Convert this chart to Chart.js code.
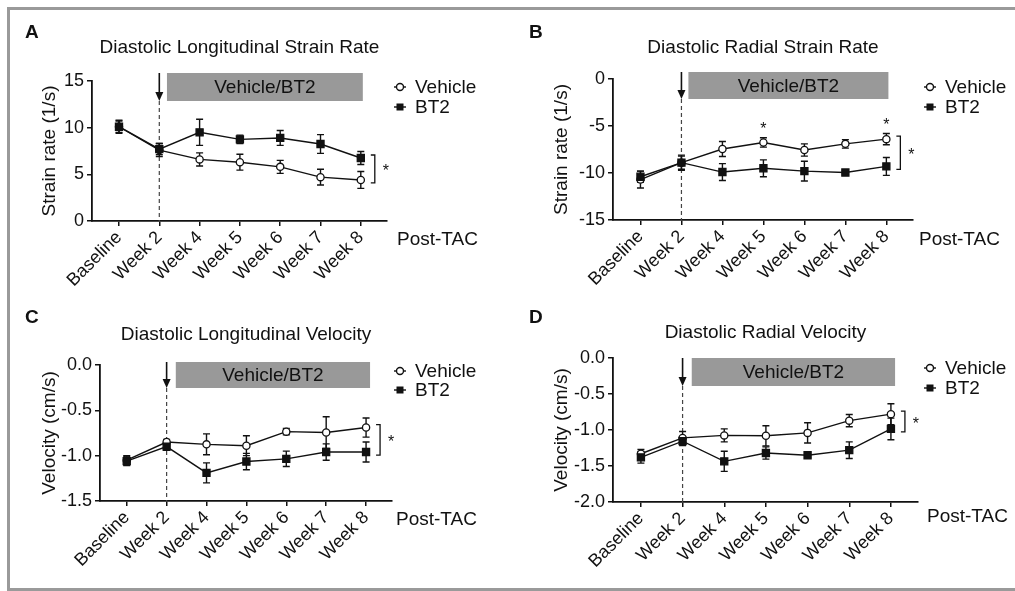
<!DOCTYPE html>
<html>
<head>
<meta charset="utf-8">
<script src="https://cdn.jsdelivr.net/npm/chart.js@4.4.1/dist/chart.umd.min.js"></script>
<style>
  body { margin: 0; background: #fff; }
  #wrap { position: relative; width: 1015px; height: 591px; overflow: hidden; }
  canvas { position: absolute; }
  #frame { position: absolute; left: 7px; top: 7px; width: 1100px; height: 584px; border: 3px solid #9a9a9a; box-sizing: border-box; pointer-events: none; }
</style>
</head>
<body>
<div id="wrap">
  <canvas id="cA"></canvas>
  <canvas id="cB"></canvas>
  <canvas id="cC"></canvas>
  <canvas id="cD"></canvas>
  <div id="frame"></div>
</div>
<script>
// Time points (x axis)
const timepoints = ['Baseline', 'Week 2', 'Week 4', 'Week 5', 'Week 6', 'Week 7', 'Week 8'];

// A - Diastolic longitudinal strain rate (1/s)
const lsrVehicle    = [10.1, 7.6, 6.6, 6.3, 5.8, 4.7, 4.4];
const lsrVehicleErr = [0.7, 0.7, 0.7, 0.85, 0.7, 0.85, 0.9];
const lsrBT2        = [10.1, 7.7, 9.5, 8.75, 8.9, 8.25, 6.75];
const lsrBT2Err     = [0.6, 0.6, 1.4, 0.45, 0.8, 1.0, 0.7];

// B - Diastolic radial strain rate (1/s)
const rsrVehicle    = [-10.7, -8.9, -7.45, -6.75, -7.55, -6.9, -6.4];
const rsrVehicleErr = [0.9, 0.8, 0.8, 0.5, 0.65, 0.45, 0.6];
const rsrBT2        = [-10.4, -8.9, -9.9, -9.5, -9.8, -9.95, -9.3];
const rsrBT2Err     = [0.6, 0.7, 0.9, 0.9, 1.05, 0.2, 0.95];
const rsrStars      = [3, 6];

// C - Diastolic longitudinal velocity (cm/s)
const lvVehicle    = [-1.05, -0.85, -0.875, -0.89, -0.735, -0.745, -0.69];
const lvVehicleErr = [0.05, 0.03, 0.115, 0.11, 0.035, 0.175, 0.105];
const lvBT2        = [-1.06, -0.9, -1.19, -1.065, -1.035, -0.96, -0.96];
const lvBT2Err     = [0.05, 0.04, 0.11, 0.09, 0.085, 0.09, 0.11];

// D - Diastolic radial velocity (cm/s)
const rvVehicle    = [-1.33, -1.11, -1.075, -1.08, -1.04, -0.87, -0.78];
const rvVehicleErr = [0.06, 0.09, 0.09, 0.14, 0.14, 0.085, 0.145];
const rvBT2        = [-1.38, -1.155, -1.435, -1.32, -1.35, -1.28, -0.985];
const rvBT2Err     = [0.08, 0.06, 0.14, 0.085, 0.03, 0.115, 0.15];

const INK = '#111';
const FONT = "'Liberation Sans', Arial, sans-serif";
Chart.defaults.font.family = FONT;
Chart.defaults.color = INK;

// Draws error bars, the treatment box, arrow, legend, bracket and labels
function decorPlugin(p) {
  return {
    id: 'decor',
    beforeDatasetsDraw(chart) {
      const { ctx, chartArea: a, scales: { x, y } } = chart;
      const wx = x.getPixelForValue(1);
      ctx.save();
      // dashed line under the arrow
      ctx.strokeStyle = '#444';
      ctx.lineWidth = 1.2;
      ctx.setLineDash([4, 3]);
      ctx.beginPath();
      ctx.moveTo(wx, a.top + p.box.bottom);
      ctx.lineTo(wx, a.bottom);
      ctx.stroke();
      ctx.setLineDash([]);
      // error bars
      ctx.strokeStyle = INK;
      ctx.lineWidth = 1.4;
      p.series.forEach(s => {
        s.values.forEach((v, i) => {
          const px = x.getPixelForValue(i);
          const t = y.getPixelForValue(v + s.err[i]);
          const b = y.getPixelForValue(v - s.err[i]);
          ctx.beginPath();
          ctx.moveTo(px, t); ctx.lineTo(px, b);
          ctx.moveTo(px - 3.5, t); ctx.lineTo(px + 3.5, t);
          ctx.moveTo(px - 3.5, b); ctx.lineTo(px + 3.5, b);
          ctx.stroke();
        });
      });
      ctx.restore();
    },
    afterDraw(chart) {
      const { ctx, chartArea: a, scales: { x, y } } = chart;
      const cx = chart.canvas.offsetLeft, cy = chart.canvas.offsetTop;
      ctx.save();

      // panel letter
      ctx.fillStyle = INK;
      ctx.font = `bold 19px ${FONT}`;
      ctx.textAlign = 'left';
      ctx.textBaseline = 'middle';
      ctx.fillText(p.letter, p.letterPos[0] - cx, p.letterPos[1] - cy);

      // treatment box
      const bx0 = x.getPixelForValue(p.box.x0), bx1 = x.getPixelForValue(p.box.x1);
      const by0 = a.top + p.box.top, by1 = a.top + p.box.bottom;
      ctx.fillStyle = '#999999';
      ctx.fillRect(bx0, by0, bx1 - bx0, by1 - by0);
      ctx.fillStyle = INK;
      ctx.font = `19px ${FONT}`;
      ctx.textAlign = 'center';
      ctx.fillText('Vehicle/BT2', (bx0 + bx1) / 2, (by0 + by1) / 2 + 1);

      // arrow at Week 2
      const wx = x.getPixelForValue(1);
      ctx.strokeStyle = INK;
      ctx.lineWidth = 1.6;
      ctx.beginPath();
      ctx.moveTo(wx, by0);
      ctx.lineTo(wx, by1 - 6);
      ctx.stroke();
      ctx.beginPath();
      ctx.moveTo(wx - 4, by1 - 9);
      ctx.lineTo(wx + 4, by1 - 9);
      ctx.lineTo(wx, by1);
      ctx.closePath();
      ctx.fill();

      // legend
      const lx = a.right + p.legend.dx;
      p.series.forEach((s, k) => {
        const ly = a.top + p.legend.dy[k];
        ctx.lineWidth = 1.4;
        ctx.strokeStyle = INK;
        ctx.beginPath();
        ctx.moveTo(lx - 6, ly); ctx.lineTo(lx + 6, ly);
        ctx.stroke();
        if (s.style === 'circle') {
          ctx.fillStyle = '#fff';
          ctx.beginPath();
          ctx.arc(lx, ly, 3.5, 0, Math.PI * 2);
          ctx.fill(); ctx.stroke();
        } else {
          ctx.fillStyle = INK;
          ctx.fillRect(lx - 3.5, ly - 3.5, 7, 7);
        }
        ctx.fillStyle = INK;
        ctx.font = `19px ${FONT}`;
        ctx.textAlign = 'left';
        ctx.textBaseline = 'middle';
        ctx.fillText(s.label, lx + 15, ly + 1);
      });

      // Post-TAC label
      ctx.fillText('Post-TAC', a.right + p.postTac.dx, a.bottom + p.postTac.dy);

      // significance bracket at last time point
      const last = timepoints.length - 1;
      const p1 = y.getPixelForValue(p.series[0].values[last]);
      const p2 = y.getPixelForValue(p.series[1].values[last]);
      const top = Math.min(p1, p2) - 3, bot = Math.max(p1, p2) + 3;
      const brx = x.getPixelForValue(last) + 14;
      ctx.lineWidth = 1.3;
      ctx.beginPath();
      ctx.moveTo(brx - 4, top); ctx.lineTo(brx, top); ctx.lineTo(brx, bot); ctx.lineTo(brx - 4, bot);
      ctx.stroke();
      ctx.font = `16px ${FONT}`;
      ctx.textAlign = 'center';
      ctx.fillText('*', brx + 11, (top + bot) / 2 + 3);

      // stars above single time points
      (p.stars || []).forEach(i => {
        const s = p.series[0];
        const sy = y.getPixelForValue(s.values[i] + s.err[i]) - 8;
        ctx.fillText('*', x.getPixelForValue(i), sy);
      });

      ctx.restore();
    }
  };
}

function buildPanel(p) {
  const cv = document.getElementById(p.id);
  cv.width = p.w; cv.height = p.h;
  cv.style.left = p.x + 'px'; cv.style.top = p.y + 'px';
  const lh = 19 * 1.2;
  const padLeft = p.yTitleX - p.x - lh / 2;
  const padTop = p.titleY - p.y - lh / 2;
  const titleGap = p.area.t - p.y - padTop - lh;
  const yWidth = p.area.l - p.x - padLeft;
  const xHeight = p.y + p.h - p.area.b;
  const padRight = p.x + p.w - p.area.r;

  const toXY = arr => arr.map((v, i) => ({ x: i, y: v }));
  const datasets = p.series.map(s => ({
    label: s.label,
    data: toXY(s.values),
    order: s.style === 'rect' ? 0 : 1,
    borderColor: INK,
    borderWidth: 1.4,
    tension: 0,
    pointStyle: s.style,
    pointRadius: s.style === 'rect' ? 5 : 3.6,
    pointBorderWidth: 1.3,
    pointBorderColor: INK,
    pointBackgroundColor: s.style === 'rect' ? INK : '#fff'
  }));

  return new Chart(cv, {
    type: 'line',
    data: { datasets },
    options: {
      responsive: false,
      animation: false,
      layout: { padding: { left: padLeft, top: padTop, right: padRight, bottom: 0 } },
      plugins: {
        legend: { display: false },
        tooltip: { enabled: false },
        title: {
          display: true, text: p.title, fullSize: false,
          font: { size: 19, weight: 'normal', lineHeight: 1.2 }, color: INK,
          padding: { top: 0, bottom: titleGap }
        }
      },
      scales: {
        x: {
          type: 'linear', min: -0.67, max: 6.65,
          afterFit: s => { s.height = xHeight; },
          grid: { display: true, drawOnChartArea: false, drawTicks: true, tickLength: 5, color: INK, lineWidth: 1.5 },
          border: { display: true, color: INK, width: 1.8 },
          ticks: {
            stepSize: 1, includeBounds: false, autoSkip: false,
            minRotation: 45, maxRotation: 45, padding: 1,
            font: { size: 18 }, color: INK,
            callback: v => timepoints[v] ?? ''
          }
        },
        y: {
          min: p.yMin, max: p.yMax,
          afterFit: s => { s.width = yWidth; },
          grid: { display: true, drawOnChartArea: false, drawTicks: true, tickLength: 5, color: INK, lineWidth: 1.5 },
          border: { display: true, color: INK, width: 1.8 },
          title: { display: true, text: p.yTitle, font: { size: 19, lineHeight: 1.2 }, color: INK, padding: 0 },
          ticks: {
            stepSize: p.yStep, padding: 3, font: { size: 18 }, color: INK,
            callback: v => p.decimals ? v.toFixed(p.decimals) : String(v)
          }
        }
      }
    },
    plugins: [decorPlugin(p)]
  });
}

buildPanel({
  id: 'cA', x: 0, y: 0, w: 500, h: 290,
  area: { l: 92, t: 81, r: 387, b: 221 }, titleY: 48, yTitleX: 50,
  title: 'Diastolic Longitudinal Strain Rate', yTitle: 'Strain rate (1/s)',
  yMin: 0, yMax: 15, yStep: 5, decimals: 0,
  letter: 'A', letterPos: [25, 33],
  series: [
    { label: 'Vehicle', style: 'circle', values: lsrVehicle, err: lsrVehicleErr },
    { label: 'BT2', style: 'rect', values: lsrBT2, err: lsrBT2Err }
  ],
  box: { x0: 1.19, x1: 6.05, top: -8, bottom: 20 },
  legend: { dx: 13, dy: [6, 26] }, postTac: { dx: 10, dy: 19 }
});

buildPanel({
  id: 'cB', x: 500, y: 0, w: 515, h: 290,
  area: { l: 613, t: 79, r: 913, b: 220 }, titleY: 48, yTitleX: 562,
  title: 'Diastolic Radial Strain Rate', yTitle: 'Strain rate (1/s)',
  yMin: -15, yMax: 0, yStep: 5, decimals: 0,
  letter: 'B', letterPos: [529, 33],
  series: [
    { label: 'Vehicle', style: 'circle', values: rsrVehicle, err: rsrVehicleErr },
    { label: 'BT2', style: 'rect', values: rsrBT2, err: rsrBT2Err }
  ],
  stars: rsrStars,
  box: { x0: 1.17, x1: 6.05, top: -7, bottom: 20 },
  legend: { dx: 17, dy: [8, 28] }, postTac: { dx: 6, dy: 20 }
});

buildPanel({
  id: 'cC', x: 0, y: 290, w: 500, h: 301,
  area: { l: 100, t: 365, r: 392, b: 501 }, titleY: 335, yTitleX: 50,
  title: 'Diastolic Longitudinal Velocity', yTitle: 'Velocity (cm/s)',
  yMin: -1.5, yMax: 0, yStep: 0.5, decimals: 1,
  letter: 'C', letterPos: [25, 318],
  series: [
    { label: 'Vehicle', style: 'circle', values: lvVehicle, err: lvVehicleErr },
    { label: 'BT2', style: 'rect', values: lvBT2, err: lvBT2Err }
  ],
  box: { x0: 1.23, x1: 6.1, top: -3, bottom: 23 },
  legend: { dx: 8, dy: [6, 25] }, postTac: { dx: 4, dy: 19 }
});

buildPanel({
  id: 'cD', x: 500, y: 290, w: 515, h: 301,
  area: { l: 613, t: 358, r: 918, b: 502 }, titleY: 333, yTitleX: 562,
  title: 'Diastolic Radial Velocity', yTitle: 'Velocity (cm/s)',
  yMin: -2, yMax: 0, yStep: 0.5, decimals: 1,
  letter: 'D', letterPos: [529, 318],
  series: [
    { label: 'Vehicle', style: 'circle', values: rvVehicle, err: rvVehicleErr },
    { label: 'BT2', style: 'rect', values: rvBT2, err: rvBT2Err }
  ],
  box: { x0: 1.22, x1: 6.1, top: 0, bottom: 28 },
  legend: { dx: 12, dy: [10, 30] }, postTac: { dx: 9, dy: 15 }
});
</script>
</body>
</html>
